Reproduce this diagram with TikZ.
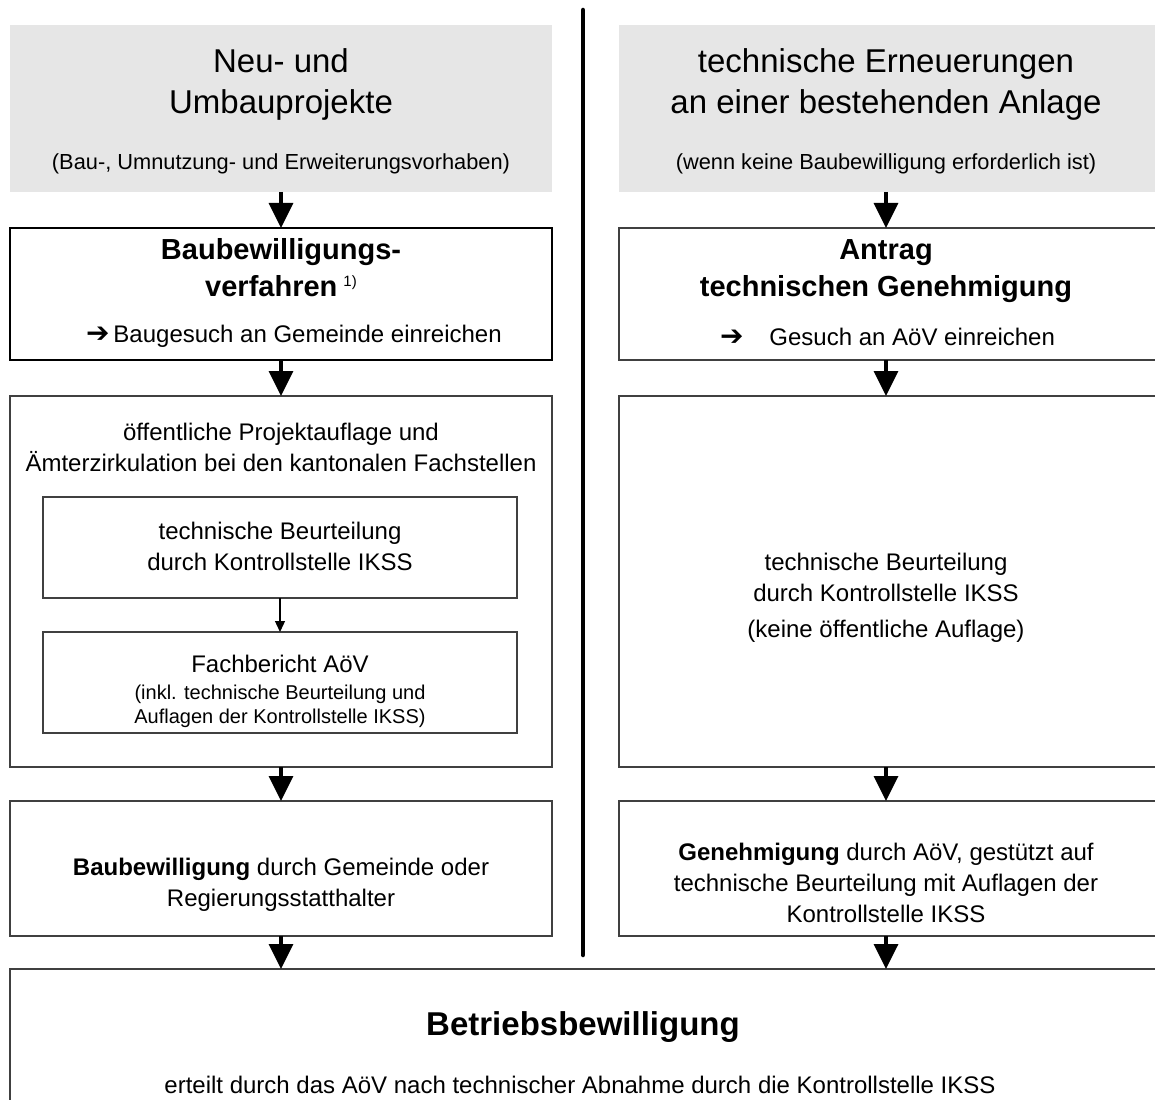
\documentclass[tikz,border=0pt]{standalone}
\usepackage{fontspec}
\setmainfont{Liberation Sans}
\newfontfamily\symfont{DejaVu Sans}
\newcommand\pfeilsym{{\symfont\fontsize{28}{28}\selectfont ➔}}
\usetikzlibrary{arrows.meta}
\definecolor{boxgray}{HTML}{E6E6E6}
\definecolor{framegray}{HTML}{404040}
\begin{document}
\begin{tikzpicture}[x=1pt,y=-1pt,
  every node/.style={inner sep=0pt, outer sep=0pt},
  gbox/.style={fill=boxgray, draw=none, rectangle},
  fbox/.style={draw=framegray, line width=1.3pt, rectangle, fill=white},
  strongbox/.style={draw=black, line width=1.8pt, rectangle, fill=white},
  bigarrow/.style={line width=3.5pt, -{Triangle[width=24pt,length=25pt]}},
  smallarrow/.style={line width=1.3pt, -{Triangle[width=10pt,length=11pt]}},
  divider/.style={line width=4.5pt, line cap=round},
  title/.style={align=center, font=\fontsize{33}{41}\selectfont},
  sub/.style={font=\fontsize{21.8}{25}\selectfont},
  head/.style={align=center, font=\fontsize{29}{37}\selectfont\bfseries},
  body/.style={align=center, font=\fontsize{24}{31}\selectfont},
  small/.style={align=center, font=\fontsize{20}{24}\selectfont},
  big/.style={font=\fontsize{33}{33}\selectfont\bfseries},
]
\useasboundingbox (0,0) rectangle (1155,1099);
\clip (0,0) rectangle (1155,1099);
\fill[white] (0,0) rectangle (1155,1099);

% boxes
\node[gbox, minimum width=542pt, minimum height=167pt] (g1) at (281,108.5) {};
\node[gbox, minimum width=560pt, minimum height=167pt] (g2) at (899,108.5) {};
\coordinate (rc) at (886,0);

\node[strongbox, minimum width=542pt, minimum height=132pt] (b1) at (281,294) {};
\node[fbox, minimum width=560pt, minimum height=132pt] (b2) at (899,294) {};

\node[fbox, minimum width=542pt, minimum height=371pt] (c1) at (281,581.5) {};
\node[fbox, minimum width=560pt, minimum height=371pt] (c2) at (899,581.5) {};

\node[fbox, minimum width=474pt, minimum height=101pt] (i1) at (280,547.5) {};
\node[fbox, minimum width=474pt, minimum height=101pt] (i2) at (280,682.5) {};

\node[fbox, minimum width=542pt, minimum height=135pt] (d1) at (281,868.5) {};
\node[fbox, minimum width=560pt, minimum height=135pt] (d2) at (899,868.5) {};

\node[fbox, minimum width=1169pt, minimum height=151pt] (e) at (594.5,1044.5) {};

% divider
\coordinate (dtop) at (583,10);
\coordinate (dbot) at (583,955);
\draw[divider] (dtop) -- (dbot);

% arrows
\draw[bigarrow] (g1.south) -- (b1.north);
\draw[bigarrow] (b1.south) -- (c1.north);
\draw[bigarrow] (c1.south) -- (d1.north);
\draw[bigarrow] (d1.south) -- (d1.south |- e.north);
\draw[bigarrow] (g2.south -| rc) -- (b2.north -| rc);
\draw[bigarrow] (b2.south -| rc) -- (c2.north -| rc);
\draw[bigarrow] (c2.south -| rc) -- (d2.north -| rc);
\draw[bigarrow] (d2.south -| rc) -- (e.north -| rc);
\draw[smallarrow] (i1.south) -- (i2.north);

% texts
\node[title] (t1) at (281,84) {Neu- und\\Umbauprojekte};
\node[sub] (s1) at (281,164) {(Bau-, Umnutzung- und Erweiterungsvorhaben)};
\node[title] (t2) at (886,84) {technische Erneuerungen\\an einer bestehenden Anlage};
\node[sub] (s2) at (886,164) {(wenn keine Baubewilligung erforderlich ist)};

\node[head] (h1) at (281,268) {Baubewilligungs-\\verfahren\hspace{6pt}\raisebox{10pt}{\fontsize{15}{15}\selectfont\mdseries 1)}};
\node[body, anchor=west] (a1) at (86,336) {\pfeilsym\hspace{4pt}Baugesuch an Gemeinde einreichen};

\node[head] (h2) at (886,271) {Antrag\\technischen Genehmigung};
\node[body, anchor=west] (a2) at (720,337) {\pfeilsym\hspace{26pt}Gesuch an AöV einreichen};

\node[body] (p1) at (281,447) {öffentliche Projektauflage und\\Ämterzirkulation bei den kantonalen Fachstellen};
\node[body] (p2) at (280,546) {technische Beurteilung\\durch Kontrollstelle IKSS};
\node[body] (p3) at (280,664) {Fachbericht AöV};
\node[small] (p4) at (280,706) {(inkl. technische Beurteilung und\\Auflagen der Kontrollstelle IKSS)};

\node[body] (q1) at (886,577) {technische Beurteilung\\durch Kontrollstelle IKSS};
\node[body] (q2) at (886,631) {(keine öffentliche Auflage)};

\node[body] (r1) at (281,885) {\textbf{Baubewilligung} durch Gemeinde oder\\Regierungsstatthalter};
\node[body] (r2) at (886,883) {\textbf{Genehmigung} durch AöV, gestützt auf\\technische Beurteilung mit Auflagen der\\Kontrollstelle IKSS};

\node[big] (f1) at (583,1027) {Betriebsbewilligung};
\node[body] (f2) at (580,1085) {erteilt durch das AöV nach technischer Abnahme durch die Kontrollstelle IKSS};
\end{tikzpicture}
\end{document}
